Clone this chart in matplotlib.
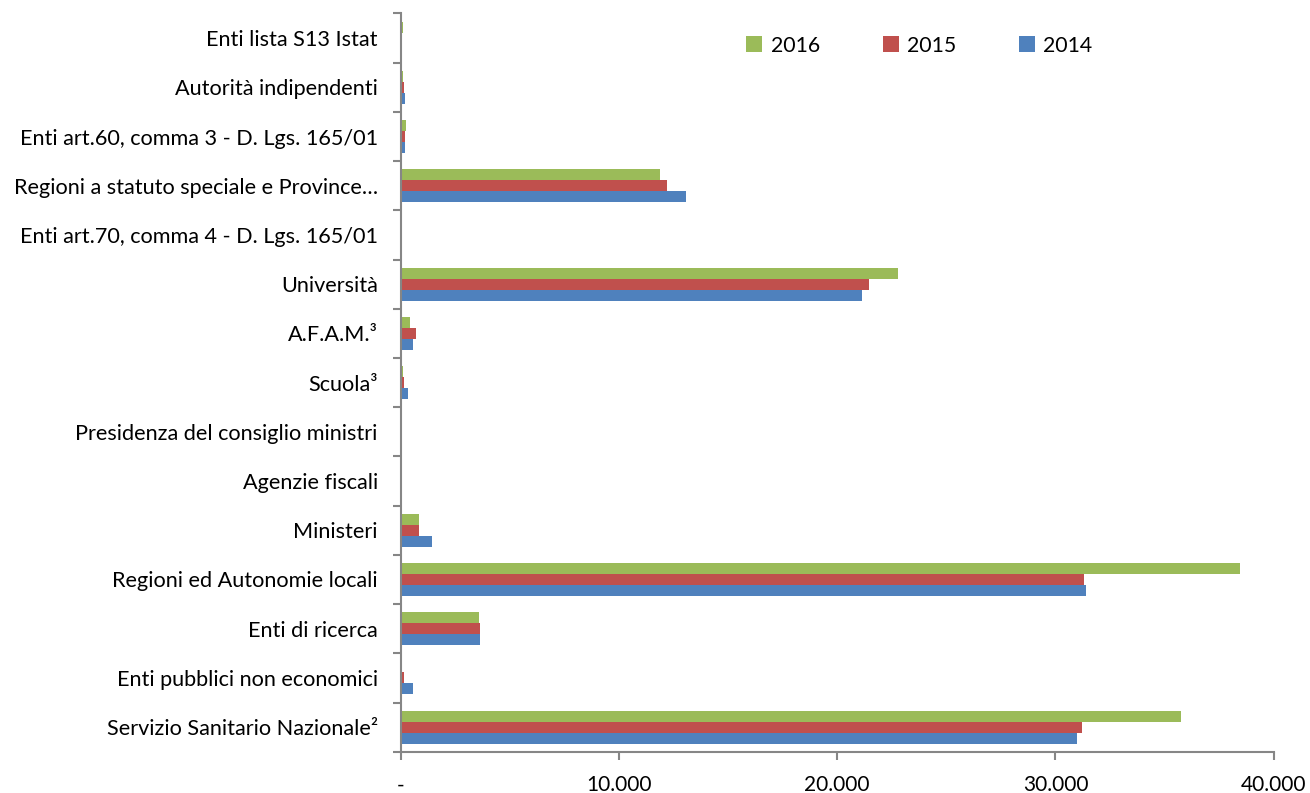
import numpy as np
import matplotlib.pyplot as plt
from matplotlib.ticker import FuncFormatter

# categories, bottom to top
categories = [
    "Servizio Sanitario Nazionale\u00b2",
    "Enti pubblici non economici",
    "Enti di ricerca",
    "Regioni ed Autonomie locali",
    "Ministeri",
    "Agenzie fiscali",
    "Presidenza del consiglio ministri",
    "Scuola\u00b3",
    "A.F.A.M.\u00b3",
    "Università",
    "Enti art.70, comma 4 - D. Lgs. 165/01",
    "Regioni a statuto speciale e Province\u2026",
    "Enti art.60, comma 3 - D. Lgs. 165/01",
    "Autorità indipendenti",
    "Enti lista S13 Istat",
]
v2014 = [31000, 580, 3650, 31420, 1435, 0, 45, 350, 580, 21130, 60, 13090, 215, 200, 0]
v2015 = [31220, 140, 3610, 31330, 840, 0, 15, 170, 690, 21470, 30, 12190, 215, 130, 40]
v2016 = [35760, 60, 3570, 38450, 840, 0, 10, 120, 430, 22800, 30, 11880, 245, 90, 100]

blue = "#4F81BD"
red = "#C0504D"
green = "#9BBB59"
axis_grey = "#868686"

plt.rcParams['font.family'] = ['Lato', 'DejaVu Sans']

fig = plt.figure(figsize=(13.1, 7.93), dpi=100)
ax = fig.add_axes([0.3059, 0.052, 0.6664, 0.931])

y = np.arange(len(categories))
h = 0.224
ax.barh(y - h, v2014, height=h, color=blue, label="2014")
ax.barh(y, v2015, height=h, color=red, label="2015")
ax.barh(y + h, v2016, height=h, color=green, label="2016")

ax.set_xlim(0, 40000)
ax.set_ylim(-0.5, len(categories) - 0.5)

# x axis
ax.set_xticks([0, 10000, 20000, 30000, 40000])
ax.xaxis.set_major_formatter(FuncFormatter(
    lambda v, p: "-" if v == 0 else f"{int(v):,}".replace(",", ".")))
ax.tick_params(axis="x", direction="out", length=6, width=1.5, color=axis_grey,
               labelsize=15, pad=11)

# y axis: ticks between categories, labels at centres
ax.set_yticks(np.arange(-0.5, len(categories), 1.0))
ax.set_yticklabels([])
ax.set_yticks(y, minor=True)
ax.set_yticklabels(categories, minor=True)
ax.tick_params(axis="y", which="major", direction="out", length=6, width=1.5, color=axis_grey)
ax.tick_params(axis="y", which="minor", length=0, labelsize=15.6, pad=16.5)

for side in ["top", "right"]:
    ax.spines[side].set_visible(False)
for side in ["left", "bottom"]:
    ax.spines[side].set_color(axis_grey)
    ax.spines[side].set_linewidth(1.5)

handles, labels = ax.get_legend_handles_labels()
ax.legend(handles[::-1], labels[::-1], ncol=3, loc="upper left",
          bbox_to_anchor=(0.374, 0.996), frameon=False, fontsize=15.3,
          handlelength=0.75, handleheight=0.75, handletextpad=0.4,
          columnspacing=2.95)

fig.savefig("out.png", dpi=100)
